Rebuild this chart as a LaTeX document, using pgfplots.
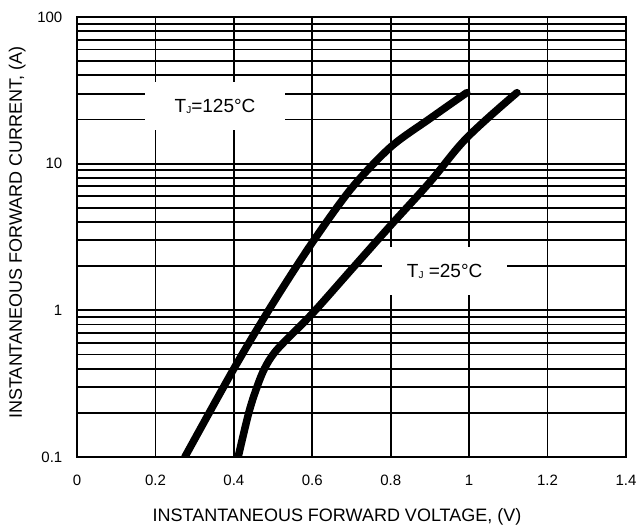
\documentclass[border=0pt]{standalone}
\usepackage{fontspec}
\setmainfont{Liberation Sans}
\usepackage{pgfplots}
\pgfplotsset{compat=1.18}
\begin{document}
\begin{tikzpicture}[x=1pt,y=1pt]
\useasboundingbox (-77,-74) rectangle (560,457);
\begin{axis}[
  at={(0,0)}, anchor=south west,
  scale only axis, width=549pt, height=440pt,
  ymode=log, xmin=0, xmax=1.4, ymin=0.1, ymax=100,
  xtick={0,0.2,0.4,0.6,0.8,1,1.2,1.4},
  xticklabels={0,0.2,0.4,0.6,0.8,1,1.2,1.4},
  ytick={0.1,1,10,100}, yticklabels={0.1,1,10,100},
  minor ytick={0.2,0.3,0.4,0.5,0.6,0.7,0.8,0.9,2,3,4,5,6,7,8,9,20,30,40,50,60,70,80,90},
  grid=both,
  major grid style={black, line width=1.8pt},
  minor grid style={black, line width=1.8pt},
  major tick length=0pt, minor tick length=0pt,
  axis line style={black, line width=2.6pt},
  tick label style={font=\fontsize{15}{15}\selectfont, inner sep=0pt},
  xticklabel style={anchor=north, yshift=-17.7pt},
  yticklabel style={anchor=east, xshift=-14.5pt},
]
\addplot[black, line width=7.5pt, line cap=round, line join=round, smooth, tension=0.5] coordinates {
(0.275,0.1) (0.4,0.4) (0.5,1.12) (0.6,2.9) (0.7,6.8) (0.8,13) (0.9,20.3) (0.994,30.5)
};
\addplot[black, line width=7.5pt, line cap=round, line join=round, smooth, tension=0.6] coordinates {
(0.411,0.1) (0.438,0.2) (0.459,0.3) (0.478,0.4) (0.5,0.5) (0.53,0.615) (0.6,0.95)
(0.7,1.9) (0.8,3.8) (0.9,7.5) (0.994,15) (1.122,30.5)
};
\node[fill=white, inner sep=0pt, minimum width=140pt, minimum height=48pt,
  font=\fontsize{19}{19}\selectfont] at (axis cs:0.352,24.6)
  {T\raisebox{-1pt}{\fontsize{10}{10}\selectfont J}=125°C};
\node[fill=white, inner sep=0pt, minimum width=125pt, minimum height=48pt,
  font=\fontsize{19}{19}\selectfont] at (axis cs:0.9375,1.845)
  {T\raisebox{-1pt}{\fontsize{10}{10}\selectfont J} =25°C};
\end{axis}
\node[rotate=90, anchor=base, font=\fontsize{18}{18}\selectfont] at (-55,224.5)
  {INSTANTANEOUS FORWARD CURRENT, (A)};
\node[anchor=base, font=\fontsize{18}{18}\selectfont] at (260,-64.7)
  {INSTANTANEOUS FORWARD VOLTAGE, (V)};
\end{tikzpicture}
\end{document}
